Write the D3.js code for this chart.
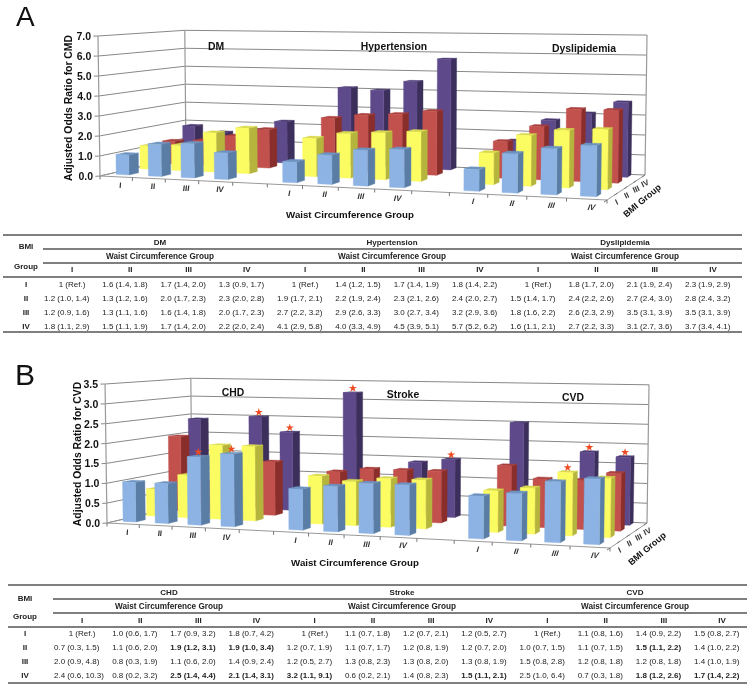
<!DOCTYPE html>
<html><head><meta charset="utf-8">
<script src="https://cdnjs.cloudflare.com/ajax/libs/d3/7.8.5/d3.min.js"></script>
<style>html,body{margin:0;padding:0;background:#fff}svg{display:block;filter:blur(0.35px)}text{font-family:"Liberation Sans",Arial,sans-serif}</style>
</head><body><svg id="c" width="750" height="686"></svg>
<script>
// ---------- data (rows = BMI group I-IV, columns = waist circumference group I-IV)
const groupLabels = ["I","II","III","IV"];
const dm = [["1 (Ref.)","1.6 (1.4, 1.8)","1.7 (1.4, 2.0)","1.3 (0.9, 1.7)"],
            ["1.2 (1.0, 1.4)","1.3 (1.2, 1.6)","2.0 (1.7, 2.3)","2.3 (2.0, 2.8)"],
            ["1.2 (0.9, 1.6)","1.3 (1.1, 1.6)","1.6 (1.4, 1.8)","2.0 (1.7, 2.3)"],
            ["1.8 (1.1, 2.9)","1.5 (1.1, 1.9)","1.7 (1.4, 2.0)","2.2 (2.0, 2.4)"]];
const hypertension = [["1 (Ref.)","1.4 (1.2, 1.5)","1.7 (1.4, 1.9)","1.8 (1.4, 2.2)"],
            ["1.9 (1.7, 2.1)","2.2 (1.9, 2.4)","2.3 (2.1, 2.6)","2.4 (2.0, 2.7)"],
            ["2.7 (2.2, 3.2)","2.9 (2.6, 3.3)","3.0 (2.7, 3.4)","3.2 (2.9, 3.6)"],
            ["4.1 (2.9, 5.8)","4.0 (3.3, 4.9)","4.5 (3.9, 5.1)","5.7 (5.2, 6.2)"]];
const dyslipidemia = [["1 (Ref.)","1.8 (1.7, 2.0)","2.1 (1.9, 2.4)","2.3 (1.9, 2.9)"],
            ["1.5 (1.4, 1.7)","2.4 (2.2, 2.6)","2.7 (2.4, 3.0)","2.8 (2.4, 3.2)"],
            ["1.8 (1.6, 2.2)","2.6 (2.3, 2.9)","3.5 (3.1, 3.9)","3.5 (3.1, 3.9)"],
            ["1.6 (1.1, 2.1)","2.7 (2.2, 3.3)","3.1 (2.7, 3.6)","3.7 (3.4, 4.1)"]];
const chd = [["1 (Ref.)","1.0 (0.6, 1.7)","1.7 (0.9, 3.2)","1.8 (0.7, 4.2)"],
            ["0.7 (0.3, 1.5)","1.1 (0.6, 2.0)","1.9 (1.2, 3.1)","1.9 (1.0, 3.4)"],
            ["2.0 (0.9, 4.8)","0.8 (0.3, 1.9)","1.1 (0.6, 2.0)","1.4 (0.9, 2.4)"],
            ["2.4 (0.6, 10.3)","0.8 (0.2, 3.2)","2.5 (1.4, 4.4)","2.1 (1.4, 3.1)"]];
const stroke = [["1 (Ref.)","1.1 (0.7, 1.8)","1.2 (0.7, 2.1)","1.2 (0.5, 2.7)"],
            ["1.2 (0.7, 1.9)","1.1 (0.7, 1.7)","1.2 (0.8, 1.9)","1.2 (0.7, 2.0)"],
            ["1.2 (0.5, 2.7)","1.3 (0.8, 2.3)","1.3 (0.8, 2.0)","1.3 (0.8, 1.9)"],
            ["3.2 (1.1, 9.1)","0.6 (0.2, 2.1)","1.4 (0.8, 2.3)","1.5 (1.1, 2.1)"]];
const cvd = [["1 (Ref.)","1.1 (0.8, 1.6)","1.4 (0.9, 2.2)","1.5 (0.8, 2.7)"],
            ["1.0 (0.7, 1.5)","1.1 (0.7, 1.5)","1.5 (1.1, 2.2)","1.4 (1.0, 2.2)"],
            ["1.5 (0.8, 2.8)","1.2 (0.8, 1.8)","1.2 (0.8, 1.8)","1.4 (1.0, 1.9)"],
            ["2.5 (1.0, 6.4)","0.7 (0.3, 1.8)","1.8 (1.2, 2.6)","1.7 (1.4, 2.2)"]];
// [disease, row, col]
const boldCellsB = [[0,1,2],[0,1,3],[0,3,2],[0,3,3],[1,3,0],[1,3,3],[2,1,2],[2,3,2],[2,3,3]];
const starsB = [[0,0,2],[0,0,3],[0,3,2],[0,3,3],[1,3,0],[1,3,3],[2,1,2],[2,3,2],[2,3,3]];

const colors = {
  front:["#8CB3E3","#FBFB62","#C2504C","#5E4A8A"],
  side: ["#5A7DA5","#B5B53E","#8A2E2C","#3C2F5C"],
  top:  ["#6D93C0","#D9D950","#A83F3C","#4A3A72"]
};
const svg = d3.select("#c");
const line = d3.line();

function projector(c){
  const [p0,p1,p2,p3]=c; // FL, FR, BR, BL
  const sx=p0[0]-p1[0]+p2[0]-p3[0], sy=p0[1]-p1[1]+p2[1]-p3[1];
  const dx1=p1[0]-p2[0], dx2=p3[0]-p2[0], dy1=p1[1]-p2[1], dy2=p3[1]-p2[1];
  const den=dx1*dy2-dx2*dy1;
  const g=(sx*dy2-dx2*sy)/den, h=(dx1*sy-sx*dy1)/den;
  const a=p1[0]-p0[0]+g*p1[0], b=p3[0]-p0[0]+h*p3[0];
  const d=p1[1]-p0[1]+g*p1[1], e=p3[1]-p0[1]+h*p3[1];
  return (X,Z,H)=>{ // H: pixel height at front-left scale
    const w=g*X+h*Z+1;
    const x=(a*X+b*Z+p0[0])/w, y=(d*X+e*Z+p0[1])/w, t=H/w;
    return [x+(x-372)*0.0074*t/140, y-t];
  };
}

function drawChart(o){
  const P=projector(o.corners);
  const yScale=d3.scaleLinear().domain([0,o.yMax]).range([0,o.height]);
  const xScale=d3.scaleLinear().domain([0,14]).range([0,1]);
  const zScale=d3.scaleLinear().domain([0,4]).range([0,1]);
  const g=svg.append("g");
  const grid="#888";
  // walls
  g.append("path").attr("d",line([P(0,0,0),P(0,1,0),P(1,1,0),P(1,0,0)])+"Z").attr("fill","#fff").attr("stroke","none");
  const ticks=d3.range(0,o.yMax+o.step/2,o.step);
  ticks.forEach(t=>{
    const H=yScale(t);
    g.append("path").attr("fill","none").attr("stroke",grid).attr("stroke-width",1)
      .attr("d",line([P(-0.006,-0.02,H),P(0,0,H),P(0,1,H),P(1,1,H)]));
    const q=P(0,0,H);
    g.append("text").attr("x",q[0]+o.labelDx).attr("y",q[1]+4).attr("text-anchor","end")
      .attr("font-weight","bold").attr("font-size",10.5).attr("fill","#111").text(o.fmt(t));
  });
  [[0,0],[0,1],[1,1]].forEach(([X,Z])=>g.append("path").attr("stroke","#999").attr("stroke-width",1.2).attr("fill","none")
      .attr("d",line([P(X,Z,0),P(X,Z,o.height)])));
  // floor axes & ticks
  g.append("path").attr("fill","none").attr("stroke","#999").attr("stroke-width",1)
    .attr("d",line([P(0,1,0),P(0,0,0),P(1,0,0),P(1,1,0)]));
  d3.range(0,15).forEach(i=>{const X=xScale(i);const q=P(X,0,0);
    g.append("line").attr("x1",q[0]).attr("y1",q[1]).attr("x2",q[0]).attr("y2",q[1]+3.5).attr("stroke","#777");});
  d3.range(0,5).forEach(i=>{const q=P(1,zScale(i),0);
    g.append("line").attr("x1",q[0]).attr("y1",q[1]).attr("x2",q[0]-3).attr("y2",q[1]+2).attr("stroke","#777");});
  // x tick labels: they lean more the further right they stand
  o.tables.forEach((tb,s)=>{
    groupLabels.forEach((lb,c)=>{
      const X=xScale(s*5+c+0.5), q=P(X,0,0);
      g.append("text").attr("transform",`translate(${q[0]+4},${q[1]+11}) skewX(${-4-X*16})`).attr("text-anchor","middle")
       .attr("font-size",8).attr("font-weight","bold").attr("fill","#333").text(lb);
    });
  });
  // BMI tick labels
  groupLabels.forEach((lb,r)=>{
    const q=P(1,zScale(r+0.5),0);
    g.append("text").attr("transform",`translate(${q[0]+5.5},${q[1]+8}) rotate(-25)`)
      .attr("text-anchor","middle").attr("font-size",8).attr("font-weight","bold").attr("fill","#333").text(lb);
  });
  // bars: back row first, left to right
  const bw=0.4, bx=0.24, zf=[0.09,0.355,0.62,0.87], zd=0.105;
  d3.range(3,-1,-1).forEach(r=>{
    o.tables.forEach((tb,s)=>{
      tb[r].forEach((cell,c)=>{
        const v=parseFloat(cell), H=yScale(v);
        const X0=xScale(s*5+c+bx), X1=xScale(s*5+c+bx+bw), Z0=zf[r], Z1=zf[r]+zd;
        const poly=(pts,f)=>g.append("path").attr("d",line(pts)+"Z").attr("fill",f).attr("stroke",f).attr("stroke-width",0.4);
        poly([P(X1,Z0,0),P(X1,Z1,0),P(X1,Z1,H),P(X1,Z0,H)],colors.side[r]);
        poly([P(X0,Z0,H),P(X1,Z0,H),P(X1,Z1,H),P(X0,Z1,H)],colors.top[r]);
        poly([P(X0,Z0,0),P(X1,Z0,0),P(X1,Z0,H),P(X0,Z0,H)],colors.front[r]);
      });
    });
  });
  // stars
  (o.stars||[]).forEach(([s,r,c])=>{
    const H=yScale(parseFloat(o.tables[s][r][c]));
    const q=P(xScale(s*5+c+bx+bw/2),zf[r]+zd/2,H);
    g.append("path").attr("transform",`translate(${q[0]},${q[1]-4})`)
      .attr("d",d3.symbol(d3.symbolStar,20)()).attr("fill","#EE4B22");
  });
  // texts
  const T=(t,x,y,fs)=>g.append("text").attr("x",x).attr("y",y).attr("text-anchor","middle")
     .attr("font-weight","bold").attr("font-size",fs).attr("fill","#111").text(t);
  o.names.forEach((n,i)=>T(n,o.nameX[i],o.nameY[i],10.4));
  T("Waist Circumference Group",o.waist[0],o.waist[1],9.7);
  g.append("text").attr("transform",`translate(${o.bmi[0]},${o.bmi[1]}) rotate(-40)`).attr("text-anchor","middle")
    .attr("font-weight","bold").attr("font-size",9).attr("fill","#111").text("BMI Group");
  g.append("text").attr("transform",`translate(${o.yTitle[0]},${o.yTitle[1]}) rotate(-90)`).attr("text-anchor","middle")
    .attr("font-weight","bold").attr("font-size",10.4).attr("fill","#111").text(o.yLabel);
  g.append("text").attr("x",o.letter[0]).attr("y",o.letter[1]).attr("font-size",o.letter[3]).attr("fill","#111").text(o.letter[2]);
}

function drawTable(o){
  const g=svg.append("g");
  const rule=(y,x0)=>g.append("line").attr("x1",x0).attr("x2",o.x1).attr("y1",y).attr("y2",y).attr("stroke","#555").attr("stroke-width",1.3);
  rule(o.rules[0],o.x0);rule(o.rules[1],o.x2);rule(o.rules[2],o.x2);rule(o.rules[3],o.x0);rule(o.rules[4],o.x0);
  const T=(t,x,y,bold,anchor,fs)=>g.append("text").attr("x",x).attr("y",y+2.9).attr("text-anchor",anchor||"middle")
    .attr("font-size",fs||8).attr("font-weight",bold?"bold":"normal").attr("fill","#222").text(t);
  T("BMI",o.bmiX,o.bmiY[0],true);T("Group",o.bmiX,o.bmiY[1],true);
  o.names.forEach((n,i)=>{T(n,o.nameX[i],o.headY[0],true);T("Waist Circumference Group",o.nameX[i],o.headY[1],true,"middle",8.2);});
  const colX=d3.scalePoint().domain(d3.range(12)).range(o.colRange);
  const rowY=d3.scalePoint().domain(d3.range(4)).range(o.rowRange);
  o.tables.forEach((tb,s)=>{
    groupLabels.forEach((lb,c)=>T(lb,colX(s*4+c),o.headY[2],true));
    tb.forEach((row,r)=>row.forEach((cell,c)=>{
      const cx=colX(s*4+c), isRef=cell.indexOf("Ref")>=0;
      const bold=(o.bold||[]).some(b=>b[0]===s&&b[1]===r&&b[2]===c);
      if(isRef)T(cell,cx,rowY(r),false); else T(cell,cx-28,rowY(r),bold,"start");
    }));
  });
  groupLabels.forEach((lb,r)=>T(lb,o.bmiX,rowY(r),true));
}

const tablesA=[dm,hypertension,dyslipidemia], tablesB=[chd,stroke,cvd];
drawChart({corners:[[100,176],[607,200],[645,175],[186,156]],height:140,yMax:7,step:1,fmt:d3.format(".1f"),labelDx:-7,
  tables:tablesA,names:["DM","Hypertension","Dyslipidemia"],nameX:[216,394,584],nameY:[50,50,52],
  waist:[350,218],bmi:[644,203],yTitle:[72,108],yLabel:"Adjusted Odds Ratio for CMD",letter:[16,25.5,"A",28]});
drawChart({corners:[[107,523],[610,548],[647,523],[192,503]],height:139,yMax:3.5,step:0.5,fmt:d3.format(".1f"),labelDx:-7,
  tables:tablesB,names:["CHD","Stroke","CVD"],nameX:[233,403,573],nameY:[396,398,401],stars:starsB,
  waist:[355,566],bmi:[649,551],yTitle:[81,454],yLabel:"Adjusted Odds Ratio for CVD",letter:[15,385,"B",30]});
drawTable({tables:tablesA,names:["DM","Hypertension","Dyslipidemia"],nameX:[160,392,625],x0:3,x1:742,x2:43,
  rules:[235,249,263,277,332],bmiX:26,bmiY:[246,266],headY:[242,256,269],colRange:[72,713],rowRange:[284,326]});
drawTable({tables:tablesB,names:["CHD","Stroke","CVD"],nameX:[169,402,635],x0:8,x1:747,x2:53,bold:boldCellsB,
  rules:[585,599,613,627,683],bmiX:25,bmiY:[598,616],headY:[592,606,620],colRange:[82,722],rowRange:[633,675]});
</script></body></html>
